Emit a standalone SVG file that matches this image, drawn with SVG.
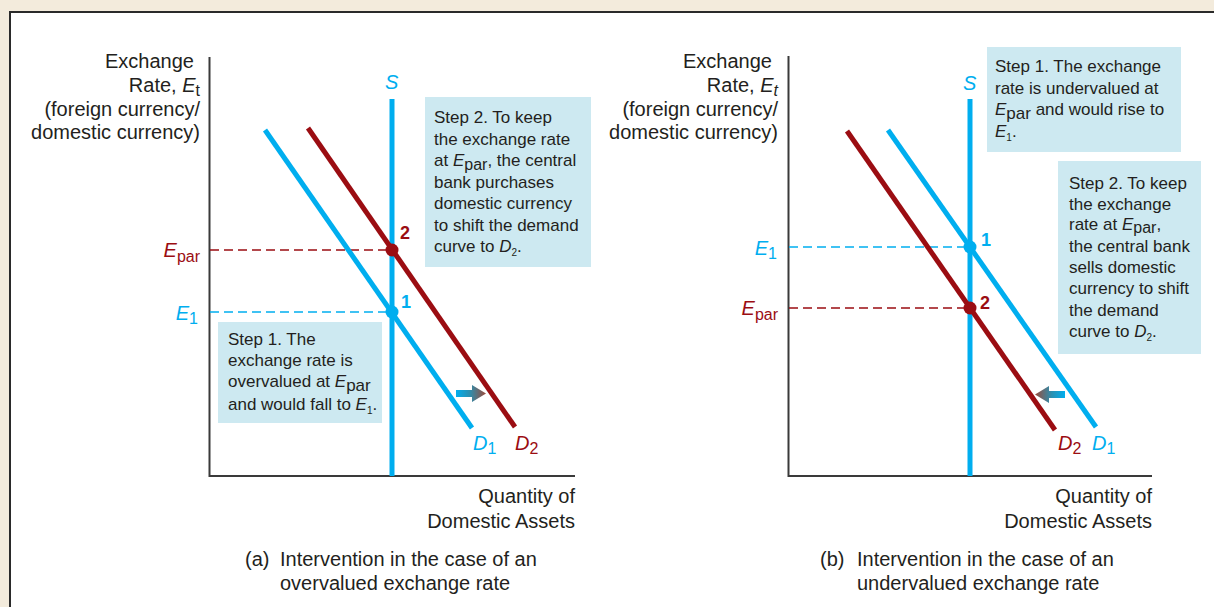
<svg xmlns="http://www.w3.org/2000/svg" width="1214" height="607" viewBox="0 0 1214 607">
<defs>
<style>
text{font-family:"Liberation Sans",Arial,sans-serif;fill:#231f20}
.ax{font-size:20px}
.box{font-size:17px}
.bx{fill:#cde9f1}
.axis{stroke:#3a3a3a;stroke-width:2;fill:none}
.blue{stroke:#00aeef;stroke-width:5;fill:none}
.red{stroke:#9b0d12;stroke-width:5;fill:none}
.dblue{stroke:#00aeef;stroke-width:1.4;stroke-dasharray:9 5;fill:none}
.dred{stroke:#9b0d12;stroke-width:1.4;stroke-dasharray:9 5;fill:none}
.tb{fill:#00aeef}
.tr{fill:#9b0d12}
.it{font-style:italic}
.num{font-size:18px;font-weight:bold}
.sp{font-size:16px}
</style>
<linearGradient id="gR" x1="0" y1="0" x2="1" y2="0">
<stop offset="0" stop-color="#00aeef"/><stop offset="0.45" stop-color="#2b8fb0"/><stop offset="1" stop-color="#9b4a3a"/>
</linearGradient>
<linearGradient id="gL" x1="1" y1="0" x2="0" y2="0">
<stop offset="0" stop-color="#00aeef"/><stop offset="0.45" stop-color="#2b8fb0"/><stop offset="1" stop-color="#9b4a3a"/>
</linearGradient>
</defs>
<rect x="0" y="0" width="1214" height="607" fill="#f3ebdc"/>
<rect x="10" y="12" width="1220" height="610" fill="#ffffff" stroke="#2a2a2a" stroke-width="2"/>

<!-- Panel (a) -->
<g id="axes-a">
<path class="axis" d="M209.5 57 V476 H575"/>
<text class="ax" text-anchor="end"><tspan x="194" y="68">Exchange</tspan><tspan x="200" y="92">Rate, <tspan class="it">E</tspan><tspan font-size="16" dy="4">t</tspan></tspan><tspan x="200" y="116">(foreign currency/</tspan><tspan x="200" y="139">domestic currency)</tspan></text>
<text class="ax" text-anchor="end"><tspan x="575" y="503">Quantity of</tspan><tspan x="575" y="528">Domestic Assets</tspan></text>
<text class="ax"><tspan x="245" y="566">(a)</tspan><tspan x="280" y="566">Intervention in the case of an</tspan><tspan x="280" y="590">overvalued exchange rate</tspan></text>
</g>
<g id="connectors-a">
<line class="dred" x1="210" y1="250" x2="392" y2="250"/>
<line class="dblue" x1="210" y1="312" x2="392" y2="312"/>
<line class="blue" x1="392" y1="99" x2="392" y2="476"/>
<line class="blue" x1="265" y1="130" x2="472" y2="428"/>
<line class="red" x1="308" y1="128" x2="515" y2="427"/>
<path d="M456 390 H472 V385 L486 393.5 L472 402 V397 H456 Z" fill="url(#gR)"/>
</g>
<g id="labels-a">
<text class="it tb" font-size="20" x="385" y="89">S</text>
<text class="tr" font-size="20" text-anchor="end" x="200" y="257"><tspan class="it">E</tspan><tspan font-size="16" dy="5">par</tspan></text>
<text class="tb" font-size="20" text-anchor="end" x="198" y="320"><tspan class="it">E</tspan><tspan font-size="16" dy="4">1</tspan></text>
<text class="tb" font-size="20" x="473" y="450"><tspan class="it">D</tspan><tspan font-size="16" dy="4">1</tspan></text>
<text class="tr" font-size="20" x="515" y="450"><tspan class="it">D</tspan><tspan font-size="16" dy="4">2</tspan></text>
</g>
<g id="point-a2">
<circle cx="392" cy="250" r="6.5" fill="#9b0d12"/>
<text class="num tr" x="400" y="239">2</text>
</g>
<g id="point-a1">
<circle cx="392" cy="312" r="6.5" fill="#00aeef"/>
<text class="num tb" x="401" y="308">1</text>
</g>
<g id="step1-a">
<rect class="bx" x="218" y="322" width="164" height="101"/>
<text class="box"><tspan x="228" y="345">Step 1. The</tspan><tspan x="228" y="366">exchange rate is</tspan><tspan x="228" y="387">overvalued at <tspan class="it">E</tspan><tspan dy="4">par</tspan></tspan><tspan x="228" y="410">and would fall to <tspan class="it">E</tspan><tspan font-size="10" dy="4">1</tspan><tspan dy="-4">.</tspan></tspan></text>
</g>
<g id="step2-a">
<rect class="bx" x="425" y="97" width="166" height="170"/>
<text class="box"><tspan x="434" y="123">Step 2. To keep</tspan><tspan x="434" y="145">the exchange rate</tspan><tspan x="434" y="166">at <tspan class="it">E</tspan><tspan class="sp" dy="3.5">par</tspan><tspan dy="-3.5">, the central</tspan></tspan><tspan x="434" y="188">bank purchases</tspan><tspan x="434" y="209">domestic currency</tspan><tspan x="434" y="231">to shift the demand</tspan><tspan x="434" y="252">curve to <tspan class="it">D</tspan><tspan font-size="10" dy="4">2</tspan><tspan dy="-4">.</tspan></tspan></text>
</g>

<!-- Panel (b) -->
<g id="axes-b">
<path class="axis" d="M788.5 56 V476 H1152"/>
<text class="ax" text-anchor="end"><tspan x="772" y="68">Exchange</tspan><tspan x="778" y="92">Rate, <tspan class="it">E</tspan><tspan class="it" font-size="16" dy="4">t</tspan></tspan><tspan x="778" y="116">(foreign currency/</tspan><tspan x="778" y="139">domestic currency)</tspan></text>
<text class="ax" text-anchor="end"><tspan x="1152" y="503">Quantity of</tspan><tspan x="1152" y="528">Domestic Assets</tspan></text>
<text class="ax"><tspan x="820" y="566">(b)</tspan><tspan x="857" y="566">Intervention in the case of an</tspan><tspan x="857" y="590">undervalued exchange rate</tspan></text>
</g>
<g id="connectors-b">
<line class="dblue" x1="789" y1="247" x2="970" y2="247"/>
<line class="dred" x1="789" y1="308" x2="970" y2="308"/>
<line class="blue" x1="970" y1="99" x2="970" y2="476"/>
<line class="blue" x1="888" y1="130" x2="1096" y2="427"/>
<line class="red" x1="847" y1="131" x2="1055" y2="430"/>
<path d="M1065 391 H1049 V386 L1035 394.5 L1049 403 V398 H1065 Z" fill="url(#gL)"/>
</g>
<g id="labels-b">
<text class="it tb" font-size="20" x="963" y="90">S</text>
<text class="tb" font-size="20" text-anchor="end" x="777" y="255"><tspan class="it">E</tspan><tspan font-size="16" dy="4">1</tspan></text>
<text class="tr" font-size="20" text-anchor="end" x="778" y="315"><tspan class="it">E</tspan><tspan font-size="16" dy="5">par</tspan></text>
<text class="tr" font-size="20" x="1058" y="450"><tspan class="it">D</tspan><tspan font-size="16" dy="4">2</tspan></text>
<text class="tb" font-size="20" x="1092" y="450"><tspan class="it">D</tspan><tspan font-size="16" dy="4">1</tspan></text>
</g>
<g id="point-b1">
<circle cx="970" cy="247" r="6.5" fill="#00aeef"/>
<text class="num tb" x="981" y="246">1</text>
</g>
<g id="point-b2">
<circle cx="970" cy="308" r="6.5" fill="#9b0d12"/>
<text class="num tr" x="980" y="309">2</text>
</g>
<g id="step1-b">
<rect class="bx" x="987" y="47" width="194" height="105"/>
<text class="box"><tspan x="995" y="72">Step 1. The exchange</tspan><tspan x="995" y="94">rate is undervalued at</tspan><tspan x="995" y="115"><tspan class="it">E</tspan><tspan dy="4">par</tspan><tspan dy="-4"> and would rise to</tspan></tspan><tspan x="995" y="137"><tspan class="it">E</tspan><tspan font-size="10" dy="4">1</tspan><tspan dy="-4">.</tspan></tspan></text>
</g>
<g id="step2-b">
<rect class="bx" x="1058" y="161" width="143" height="193"/>
<text class="box"><tspan x="1069" y="189">Step 2. To keep</tspan><tspan x="1069" y="210">the exchange</tspan><tspan x="1069" y="230">rate at <tspan class="it">E</tspan><tspan class="sp" dy="3">par</tspan><tspan dy="-3">,</tspan></tspan><tspan x="1069" y="252">the central bank</tspan><tspan x="1069" y="273">sells domestic</tspan><tspan x="1069" y="294">currency to shift</tspan><tspan x="1069" y="316">the demand</tspan><tspan x="1069" y="337">curve to <tspan class="it">D</tspan><tspan font-size="10" dy="4">2</tspan><tspan dy="-4">.</tspan></tspan></text>
</g>
</svg>
